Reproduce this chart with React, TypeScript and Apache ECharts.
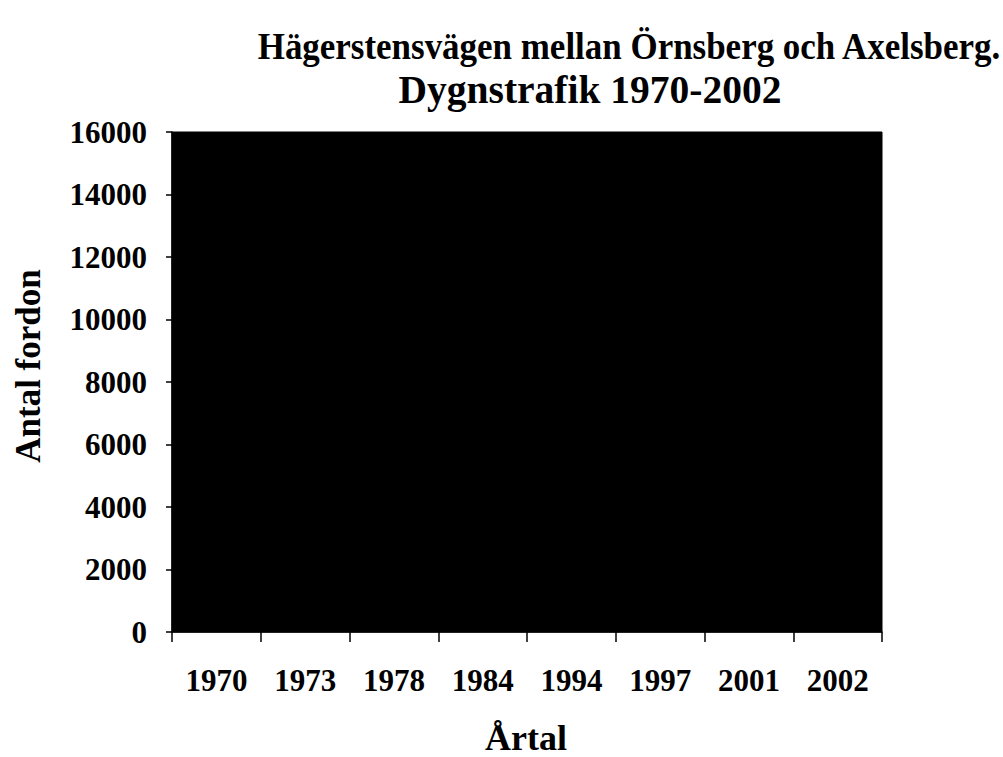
import React, { useEffect, useRef } from "react";
import * as echarts from "echarts";

// Category labels (years) on the x axis
const years = ["1970", "1973", "1978", "1984", "1994", "1997", "2001", "2002"];
// Daily traffic per year: bars are black on a black plot area in the reference,
// so their heights cannot be read; values here are rough estimates.
const traffic = [14000, 13500, 12000, 11000, 10500, 10000, 9500, 9500];
// Y axis scale
const yMin = 0;
const yMax = 16000;
const yStep = 2000;

const titleLine1 = "Hägerstensvägen mellan Örnsberg och Axelsberg.";
const titleLine2 = "Dygnstrafik 1970-2002";
const xName = "Årtal";
const yName = "Antal fordon";

const FONT = "'Liberation Serif', 'Times New Roman', serif";

export default function App() {
  const ref = useRef<HTMLDivElement>(null);

  useEffect(() => {
    if (!ref.current) return;
    const chart = echarts.init(ref.current, undefined, { renderer: "svg" });
    chart.setOption({
      animation: false,
      backgroundColor: "#ffffff",
      grid: {
        left: 172,
        top: 132,
        width: 710,
        height: 500,
        show: true,
        backgroundColor: "#000000",
        borderColor: "#000000",
        borderWidth: 1,
      },
      xAxis: {
        type: "category",
        data: years,
        boundaryGap: true,
        axisLine: { show: true, lineStyle: { color: "#000", width: 1.5 } },
        axisTick: { show: true, length: 10, lineStyle: { color: "#000", width: 1.5 } },
        axisLabel: {
          color: "#000",
          fontFamily: FONT,
          fontWeight: "bold",
          fontSize: 31,
          margin: 33,
        },
        splitLine: { show: false },
      },
      yAxis: {
        type: "value",
        min: yMin,
        max: yMax,
        interval: yStep,
        axisLine: { show: true, lineStyle: { color: "#000", width: 1.5 } },
        axisTick: { show: true, length: 6, lineStyle: { color: "#000", width: 1.5 } },
        axisLabel: {
          color: "#000",
          fontFamily: FONT,
          fontWeight: "bold",
          fontSize: 31,
          margin: 25,
          formatter: (v: number) => String(v),
        },
        splitLine: { show: false },
      },
      series: [
        {
          type: "bar",
          data: traffic,
          barWidth: "50%",
          itemStyle: { color: "#000000" },
        },
      ],
      graphic: [
        {
          type: "text",
          x: 629,
          y: 46,
          scaleX: 0.92,
          style: {
            text: titleLine1,
            font: `bold 38px ${FONT}`,
            fill: "#000",
            textAlign: "center",
            textVerticalAlign: "middle",
          },
        },
        {
          type: "text",
          x: 590,
          y: 90,
          style: {
            text: titleLine2,
            font: `bold 39.5px ${FONT}`,
            fill: "#000",
            textAlign: "center",
            textVerticalAlign: "middle",
          },
        },
        {
          type: "text",
          x: 526,
          y: 738,
          style: {
            text: xName,
            font: `bold 36px ${FONT}`,
            fill: "#000",
            textAlign: "center",
            textVerticalAlign: "middle",
          },
        },
        {
          type: "text",
          x: 28,
          y: 366,
          rotation: Math.PI / 2,
          style: {
            text: yName,
            font: `bold 35px ${FONT}`,
            fill: "#000",
            textAlign: "center",
            textVerticalAlign: "middle",
          },
        },
      ],
    });
    return () => chart.dispose();
  }, []);

  return (
    <div
      ref={ref}
      style={{ position: "absolute", left: 0, top: 0, width: 1003, height: 757 }}
    />
  );
}
